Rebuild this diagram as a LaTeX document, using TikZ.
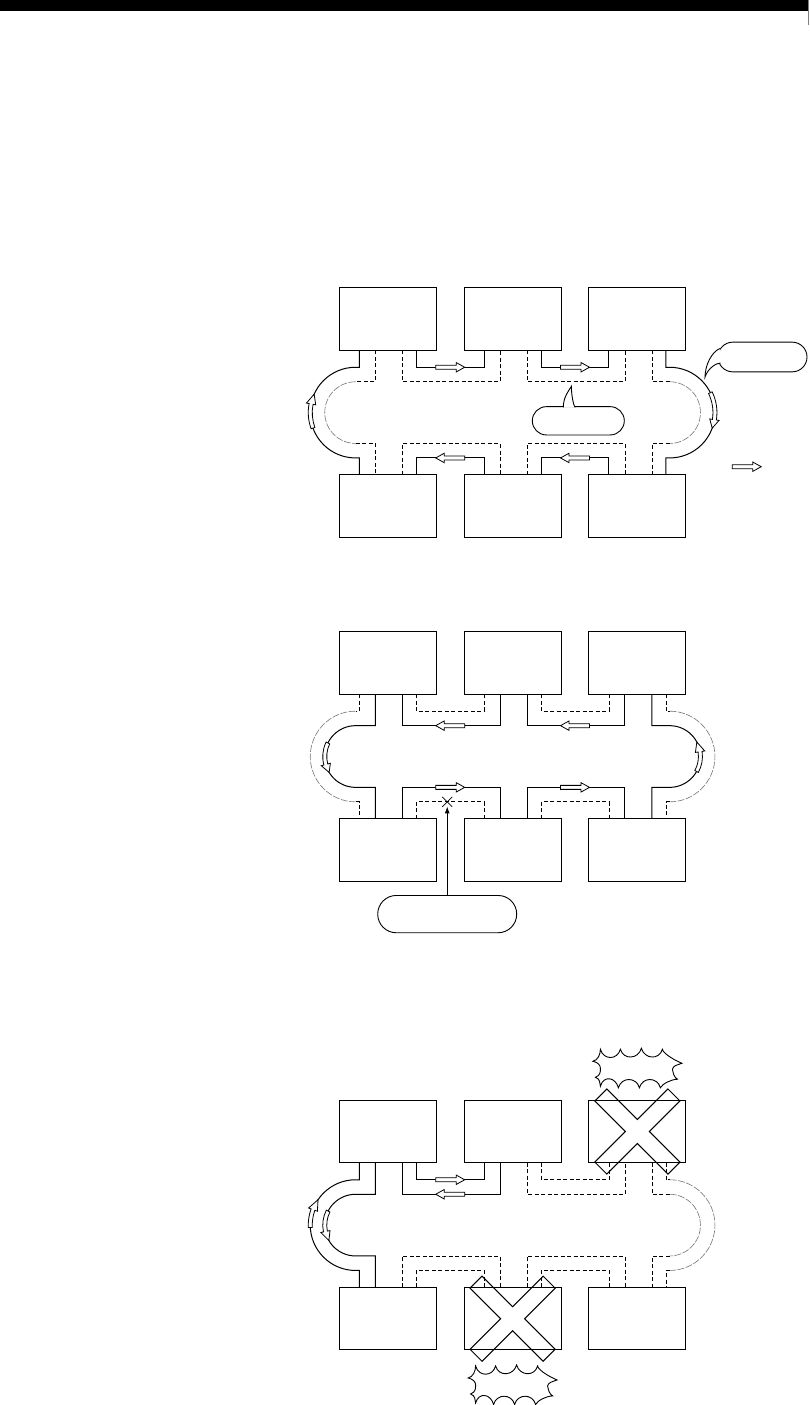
\documentclass[tikz,border=0pt]{standalone}
\usepackage{tikz}
\usetikzlibrary{arrows.meta, positioning, calc}

% port offsets from the centre of a station box
\newcommand{\portA}{-28.5pt}
\newcommand{\portB}{-12.5pt}
\newcommand{\portC}{14.5pt}
\newcommand{\portD}{28.5pt}

% hollow arrow bent along a loop arc: centre, radius, tail angle, head base angle, tip angle
\newcommand{\ringarrow}[5]{%
  \pgfmathsetlengthmacro{\rOut}{#2pt+2pt}\pgfmathsetlengthmacro{\rIn}{#2pt-2pt}%
  \pgfmathsetlengthmacro{\hOut}{#2pt+4.7pt}\pgfmathsetlengthmacro{\hIn}{#2pt-4.7pt}%
  \draw[arrowbody] ($(#1)+(#3:\rOut)$) arc[start angle=#3, end angle=#4, radius=\rOut]
    -- ($(#1)+(#4:\hOut)$) -- ($(#1)+(#5:#2pt)$) -- ($(#1)+(#4:\hIn)$)
    -- ($(#1)+(#4:\rIn)$) arc[start angle=#4, end angle=#3, radius=\rIn] -- cycle;}

\begin{document}
\begin{tikzpicture}[
    x=1pt, y=-1pt,
    box/.style={draw, line width=1pt, minimum width=97pt, minimum height=62.5pt, inner sep=0pt, outer sep=0pt},
    link/.style={line width=1pt},
    dlink/.style={line width=0.8pt, dash pattern=on 4pt off 2.5pt},
    glink/.style={line width=0.6pt, black!55, dash pattern=on 7pt off 1.5pt},
    arrowbody/.style={draw, fill=white, line width=0.8pt},
    callout/.style={draw, line width=0.9pt, inner sep=0pt, outer sep=0pt},
    calltail/.style={draw, fill=white, line width=0.9pt},
    blockarr/.pic={\draw[arrowbody] (-14.5,-2) -- (6,-2) -- (6,-4.7) -- (14.5,0) -- (6,4.7) -- (6,2) -- (-14.5,2) -- cycle;},
    bigx/.pic={\draw[line width=1pt] (0,-12) -- (30.55,-42.57) -- (42.57,-30.55) -- (12,0) -- (42.57,30.55) -- (30.55,42.57)
        -- (0,12) -- (-30.55,42.57) -- (-42.57,30.55) -- (-12,0) -- (-42.57,-30.55) -- (-30.55,-42.57) -- cycle;},
    burst/.pic={\draw[line width=0.9pt]
        (-37,-19) .. controls +(3,11) and +(-3,11) .. (-17,-19)
        .. controls +(3,11) and +(-3,11) .. (4,-20)
        .. controls +(3,11) and +(-3,11) .. (25,-19)
        .. controls +(1,5) and +(-5,-2) .. (44.5,-5)
        .. controls +(-5,2) and +(1,-4) .. (35,1)
        .. controls +(1,4) and +(-4,-3) .. (40,11)
        .. controls +(-6,0) and +(2,-4) .. (23,19.5)
        .. controls +(-3,-11) and +(3,-11) .. (2,19.5)
        .. controls +(-3,-11) and +(3,-11) .. (-19,19.5)
        .. controls +(-3,-11) and +(3,-11) .. (-37,18)
        .. controls +(-1,-4) and +(5,2) .. (-42,9)
        .. controls +(5,-2) and +(0,4) .. (-37,0)
        .. controls +(0,-3) and +(5,1) .. (-44.5,-7)
        .. controls +(5,-1) and +(0,5) .. (-37,-19) -- cycle;},
]
\useasboundingbox (0,0) rectangle (809,1405);

% page header bar
\fill (0,0) rectangle (809,11);
\draw[black!50, line width=0.6pt] (808.5,0) -- (808.5,25);

% ======== RING 1 (normal) ========
\node[box] (A1) at (387.8,319) {};
\node[box, right=27.8pt of A1] (A2) {};
\node[box, right=27.8pt of A2] (A3) {};
\node[box, below=124.7pt of A1] (B1) {};
\node[box, right=27.8pt of B1] (B2) {};
\node[box, right=27.8pt of B2] (B3) {};
\coordinate (L1) at ($(A1.south)!0.5!(B1.north)+(-32.2,0)$);
\coordinate (R1) at ($(A3.south)!0.5!(B3.north)+(32.2,0)$);

% outer loop (solid)
\draw[link] ([xshift=\portD]A1.south) -- ++(0,17) -| ([xshift=\portA]A2.south);
\draw[link] ([xshift=\portD]A2.south) -- ++(0,17) -| ([xshift=\portA]A3.south);
\draw[link] ([xshift=\portD]B1.north) -- ++(0,-17) -| ([xshift=\portA]B2.north);
\draw[link] ([xshift=\portD]B2.north) -- ++(0,-17) -| ([xshift=\portA]B3.north);
\draw[link] ([xshift=\portA]A1.south) -- ++(0,17) -- ++(-3.7,0) arc[start angle=90, end angle=270, radius=45.35pt] -| ([xshift=\portA]B1.north);
\draw[link] ([xshift=\portD]A3.south) -- ++(0,17) -- ++(3.7,0) arc[start angle=90, end angle=-90, radius=45.35pt] -| ([xshift=\portD]B3.north);

% inner loop (dashed)
\draw[dlink] ([xshift=\portC]A1.south) -- ++(0,31.5) -| ([xshift=\portB]A2.south);
\draw[dlink] ([xshift=\portC]A2.south) -- ++(0,31.5) -| ([xshift=\portB]A3.south);
\draw[dlink] ([xshift=\portC]B1.north) -- ++(0,-31.5) -| ([xshift=\portB]B2.north);
\draw[dlink] ([xshift=\portC]B2.north) -- ++(0,-31.5) -| ([xshift=\portB]B3.north);
\draw[dlink] ([xshift=\portB]A1.south) -- ++(0,31.5) -- ++(-19.7,0) coordinate (l1t);
\draw[glink] (l1t) arc[start angle=90, end angle=270, radius=30.85pt] coordinate (l1b);
\draw[dlink] (l1b) -| ([xshift=\portB]B1.north);
\draw[dlink] ([xshift=\portC]A3.south) -- ++(0,31.5) -- ++(17.7,0) coordinate (r1t);
\draw[glink] (r1t) arc[start angle=90, end angle=-90, radius=30.85pt] coordinate (r1b);
\draw[dlink] (r1b) -| ([xshift=\portC]B3.north);

% direction arrows
\pic at ($(A1.south east)!0.5!(A2.south west)+(0,17)$) {blockarr};
\pic at ($(A2.south east)!0.5!(A3.south west)+(0,17)$) {blockarr};
\pic[rotate=180] at ($(B1.north east)!0.5!(B2.north west)+(0,-17)$) {blockarr};
\pic[rotate=180] at ($(B2.north east)!0.5!(B3.north west)+(0,-17)$) {blockarr};
\ringarrow{L1}{45.35}{200}{169}{156}
\ringarrow{R1}{45.35}{26}{-9}{-20}

% callouts and legend
\node[callout, rounded corners=14.8pt, minimum width=89pt, minimum height=29.7pt] (tag1) at (762.5,357) {};
\draw[calltail] ($(tag1.west)+(2,-8.5)$) .. controls +(-8,3) and +(0,-12) .. ($(tag1.west)+(-13,20)$)
    .. controls +(3,-9) and +(-4,0) .. ($(tag1.west)+(2.5,6)$);
\node[callout, rounded corners=14.1pt, minimum width=92pt, minimum height=28.3pt] (tag2) at (578.3,420.8) {};
\draw[calltail] ($(tag2.north)+(-15,0.6)$) .. controls +(0,-10) and +(-3,5) .. ($(tag2.north)+(-6.8,-20.5)$)
    .. controls +(-0.5,6) and +(-2,-1) .. ($(tag2.north)+(-3,0.6)$);
\pic at (746.7,466.7) {blockarr};

% ======== RING 2 (line break) ========
\node[box] (C1) at (387.8,662.9) {};
\node[box, right=27.8pt of C1] (C2) {};
\node[box, right=27.8pt of C2] (C3) {};
\node[box, below=124.7pt of C1] (D1) {};
\node[box, right=27.8pt of D1] (D2) {};
\node[box, right=27.8pt of D2] (D3) {};
\coordinate (L2) at ($(C1.south)!0.5!(D1.north)+(-32.2,0)$);
\coordinate (R2) at ($(C3.south)!0.5!(D3.north)+(32.2,0)$);

% outer loop (dashed)
\draw[dlink] ([xshift=\portD]C1.south) -- ++(0,17) -| ([xshift=\portA]C2.south);
\draw[dlink] ([xshift=\portD]C2.south) -- ++(0,17) -| ([xshift=\portA]C3.south);
\draw[dlink] ([xshift=\portD]D1.north) -- ++(0,-17) -| ([xshift=\portA]D2.north);
\draw[dlink] ([xshift=\portD]D2.north) -- ++(0,-17) -| ([xshift=\portA]D3.north);
\draw[dlink] ([xshift=\portA]C1.south) -- ++(0,17) -- ++(-3.7,0) coordinate (l2t);
\draw[glink] (l2t) arc[start angle=90, end angle=270, radius=45.35pt] coordinate (l2b);
\draw[dlink] (l2b) -| ([xshift=\portA]D1.north);
\draw[dlink] ([xshift=\portD]C3.south) -- ++(0,17) -- ++(3.7,0) coordinate (r2t);
\draw[glink] (r2t) arc[start angle=90, end angle=-90, radius=45.35pt] coordinate (r2b);
\draw[dlink] (r2b) -| ([xshift=\portD]D3.north);

% inner loop (solid)
\draw[link] ([xshift=\portC]C1.south) -- ++(0,31.5) -| ([xshift=\portB]C2.south);
\draw[link] ([xshift=\portC]C2.south) -- ++(0,31.5) -| ([xshift=\portB]C3.south);
\draw[link] ([xshift=\portC]D1.north) -- ++(0,-31.5) -| ([xshift=\portB]D2.north);
\draw[link] ([xshift=\portC]D2.north) -- ++(0,-31.5) -| ([xshift=\portB]D3.north);
\draw[link] ([xshift=\portB]C1.south) -- ++(0,31.5) -- ++(-19.7,0) arc[start angle=90, end angle=270, radius=30.85pt] -| ([xshift=\portB]D1.north);
\draw[link] ([xshift=\portC]C3.south) -- ++(0,31.5) -- ++(17.7,0) arc[start angle=90, end angle=-90, radius=30.85pt] -| ([xshift=\portC]D3.north);

% direction arrows
\pic[rotate=180] at ($(C1.south east)!0.5!(C2.south west)+(0,31.5)$) {blockarr};
\pic[rotate=180] at ($(C2.south east)!0.5!(C3.south west)+(0,31.5)$) {blockarr};
\pic at ($(D1.north east)!0.5!(D2.north west)+(0,-31.5)$) {blockarr};
\pic at ($(D2.north east)!0.5!(D3.north west)+(0,-31.5)$) {blockarr};
\ringarrow{L2}{30.85}{154}{195}{211}
\ringarrow{R2}{30.85}{-29}{9}{28}

% break point
\coordinate (brk) at ($(D1.north east)!0.5!(D2.north west)+(-3,-17)$);
\draw[line width=0.8pt] (brk) +(-5,-5) -- +(5,5) (brk) +(-5,5) -- +(5,-5);
\node[callout, rounded corners=18.6pt, minimum width=139pt, minimum height=37.3pt, below=93.6pt of brk] (tag3) {};
\draw[link, -{Latex[length=7pt, width=5pt]}, shorten >=4.5pt] (tag3.north) -- (brk);

% ======== RING 3 (station faults) ========
\node[box] (E1) at (387.8,1131.5) {};
\node[box, right=27.8pt of E1] (E2) {};
\node[box, right=27.8pt of E2] (E3) {};
\node[box, below=124.7pt of E1] (F1) {};
\node[box, right=27.8pt of F1] (F2) {};
\node[box, right=27.8pt of F2] (F3) {};
\coordinate (L3) at ($(E1.south)!0.5!(F1.north)+(-32.2,0)$);

% loop back (solid)
\draw[link] ([xshift=\portD]E1.south) -- ++(0,17) -| ([xshift=\portA]E2.south);
\draw[link] ([xshift=\portC]E1.south) -- ++(0,31.5) -| ([xshift=\portB]E2.south);
\draw[link] ([xshift=\portA]E1.south) -- ++(0,17) -- ++(-3.7,0) arc[start angle=90, end angle=270, radius=45.35pt] -| ([xshift=\portA]F1.north);
\draw[link] ([xshift=\portB]E1.south) -- ++(0,31.5) -- ++(-19.7,0) arc[start angle=90, end angle=270, radius=30.85pt] -| ([xshift=\portB]F1.north);

% unused paths (dashed)
\draw[dlink] ([xshift=\portD]E2.south) -- ++(0,17) -| ([xshift=\portA]E3.south);
\draw[dlink] ([xshift=\portC]E2.south) -- ++(0,31.5) -| ([xshift=\portB]E3.south);
\draw[dlink] ([xshift=\portD]F1.north) -- ++(0,-17) -| ([xshift=\portA]F2.north);
\draw[dlink] ([xshift=\portC]F1.north) -- ++(0,-31.5) -| ([xshift=\portB]F2.north);
\draw[dlink] ([xshift=\portD]F2.north) -- ++(0,-17) -| ([xshift=\portA]F3.north);
\draw[dlink] ([xshift=\portC]F2.north) -- ++(0,-31.5) -| ([xshift=\portB]F3.north);
\draw[dlink] ([xshift=\portD]E3.south) -- ++(0,17) -- ++(3.7,0) coordinate (r3t);
\draw[glink] (r3t) arc[start angle=90, end angle=-90, radius=45.35pt] coordinate (r3b);
\draw[dlink] (r3b) -| ([xshift=\portD]F3.north);
\draw[dlink] ([xshift=\portC]E3.south) -- ++(0,31.5) -- ++(17.7,0) coordinate (r3u);
\draw[glink] (r3u) arc[start angle=90, end angle=-90, radius=30.85pt] coordinate (r3v);
\draw[dlink] (r3v) -| ([xshift=\portC]F3.north);

% direction arrows
\pic at ($(E1.south east)!0.5!(E2.south west)+(0,17)$) {blockarr};
\pic[rotate=180] at ($(E1.south east)!0.5!(E2.south west)+(0,31.5)$) {blockarr};
\ringarrow{L3}{45.35}{183}{160}{146}
\ringarrow{L3}{30.85}{153}{192}{210}

% faulty stations
\pic at (E3) {bigx};
\pic at (F2) {bigx};
\pic at ($(E3.north)+(0,-32)$) {burst};
\pic at ($(F2.south)+(0,35)$) {burst};

\end{tikzpicture}
\end{document}
